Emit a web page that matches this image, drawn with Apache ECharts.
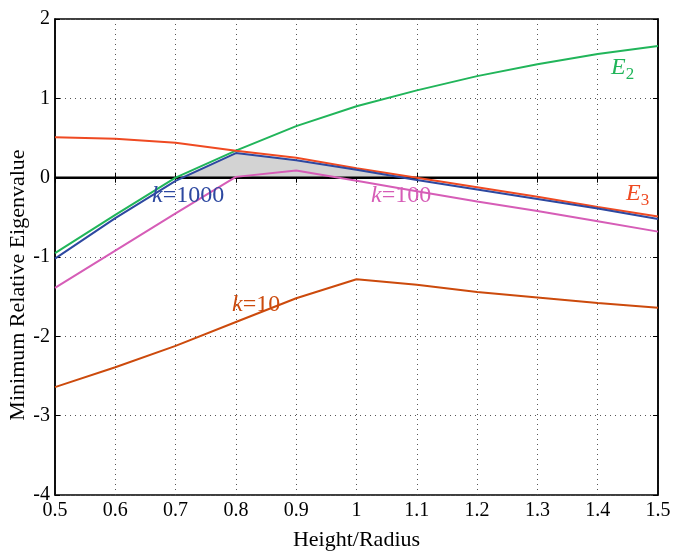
<!DOCTYPE html>
<html>
<head>
<meta charset="utf-8">
<script src="https://cdn.jsdelivr.net/npm/echarts@6/dist/echarts.min.js"></script>
<style>
  html, body { margin: 0; padding: 0; background: #fff; }
  #chart { width: 673px; height: 552px; }
</style>
</head>
<body>
<div id="chart"></div>
<script>
  // 横轴: 高度/半径
  const ratios = [0.5, 0.6, 0.7, 0.8, 0.9, 1.0, 1.1, 1.2, 1.3, 1.4, 1.5];
  const e2 = [-0.95, -0.47, 0.0, 0.34, 0.65, 0.90, 1.10, 1.28, 1.43, 1.56, 1.66];
  const e3 = [0.51, 0.49, 0.44, 0.34, 0.25, 0.12, 0.0, -0.12, -0.24, -0.37, -0.49];
  const k1000 = [-1.02, -0.51, -0.04, 0.31, 0.22, 0.10, -0.03, -0.15, -0.27, -0.39, -0.52];
  const k100 = [-1.39, -0.92, -0.45, 0.01, 0.09, -0.04, -0.17, -0.30, -0.42, -0.55, -0.68];
  const k10 = [-2.64, -2.39, -2.12, -1.82, -1.52, -1.28, -1.35, -1.44, -1.51, -1.58, -1.64];
  // 阴影区 (k=1000 大于 0 的部分)
  const shadeX = [0.705, 0.8, 0.9, 1.0, 1.07];
  const shadeY = [0, 0.31, 0.22, 0.10, 0];

  const font = '"Liberation Serif", "DejaVu Serif", serif';
  const pair = (xs, ys) => xs.map((x, i) => [x, ys[i]]);

  function line(name, data, color, z) {
    return {
      name: name, type: 'line', data: pair(ratios, data), symbol: 'none',
      lineStyle: { color: color, width: 2 }, z: z, animation: false
    };
  }

  function eTag(x, y, sub, color) {
    return {
      type: 'text', left: x, top: y, z: 100,
      style: {
        text: '{m|E}{s|' + sub + '}',
        rich: {
          m: { fontFamily: font, fontStyle: 'italic', fontSize: 24, fill: color },
          s: { fontFamily: font, fontSize: 17, fill: color, padding: [14, 0, 0, 0] }
        }
      }
    };
  }

  function kTag(x, y, num, color) {
    return {
      type: 'text', left: x, top: y, z: 100,
      style: {
        text: '{k|k}{n|=' + num + '}',
        rich: {
          k: { fontFamily: font, fontStyle: 'italic', fontSize: 24, fill: color },
          n: { fontFamily: font, fontSize: 24, fill: color }
        }
      }
    };
  }

  let chart = echarts.init(document.getElementById('chart'));
  chart.setOption({
    backgroundColor: '#fff',
    grid: { left: 55, right: 15, top: 19, bottom: 57, outerBoundsMode: 'none',
      show: true, borderColor: '#000', borderWidth: 1.5 },
    xAxis: [{
      type: 'value', min: 0.5, max: 1.5, interval: 0.1,
      name: 'Height/Radius', nameLocation: 'middle', nameGap: 34,
      nameTextStyle: { fontFamily: font, fontSize: 22, color: '#000' },
      axisLine: { lineStyle: { color: '#000', width: 1.5 } },
      axisTick: { inside: true, length: 5, lineStyle: { color: '#000' } },
      axisLabel: { fontFamily: font, fontSize: 20, color: '#000', margin: 6,
        formatter: v => String(Math.round(v * 10) / 10) },
      splitLine: { show: true, lineStyle: { color: '#555', type: [1, 4], width: 1 } }
    }, {
      type: 'value', min: 0.5, max: 1.5, interval: 0.1, position: 'top',
      axisLine: { show: true, lineStyle: { color: '#000', width: 1.5 } },
      axisTick: { inside: true, length: 5, lineStyle: { color: '#000' } },
      axisLabel: { show: false }, splitLine: { show: false }
    }],
    yAxis: [{
      type: 'value', min: -4, max: 2, interval: 1,
      axisLine: { show: true, lineStyle: { color: '#000', width: 1.5 } },
      axisTick: { show: true, inside: true, length: 5, lineStyle: { color: '#000' } },
      axisLabel: { fontFamily: font, fontSize: 20, color: '#000', margin: 5 },
      splitLine: { show: true, lineStyle: { color: '#555', type: [1, 4], width: 1 } }
    }, {
      type: 'value', min: -4, max: 2, interval: 1, position: 'right',
      axisLine: { show: true, lineStyle: { color: '#000', width: 1.5 } },
      axisTick: { show: true, inside: true, length: 5, lineStyle: { color: '#000' } },
      axisLabel: { show: false }, splitLine: { show: false }
    }],
    series: [
      {
        name: 'shade', type: 'line', data: pair(shadeX, shadeY), symbol: 'none',
        lineStyle: { width: 0 }, areaStyle: { color: '#d3d3d3', opacity: 1, origin: 0 },
        z: 1, animation: false
      },
      {
        name: 'zero', type: 'line', data: [[0.5, 0], [1.5, 0]], symbol: 'none',
        lineStyle: { color: '#000', width: 2.5 }, z: 2, animation: false
      },
      line('k=10', k10, '#cc4a0c', 3),
      line('k=100', k100, '#d65db7', 3),
      line('E2', e2, '#21b55a', 4),
      line('E3', e3, '#ef4a22', 4),
      line('k=1000', k1000, '#2d48a0', 5)
    ],
    graphic: [
      {
        type: 'text', x: 18, y: 285, rotation: Math.PI / 2, z: 100,
        style: { text: 'Minimum Relative Eigenvalue', fontFamily: font, fontSize: 22,
          fill: '#000', align: 'center', verticalAlign: 'middle' }
      },
      eTag(611, 56, '2', '#21b55a'),
      eTag(626, 182, '3', '#ef4a22'),
      kTag(152, 184, '1000', '#2d48a0'),
      kTag(371, 184, '100', '#d65db7'),
      kTag(232, 293, '10', '#cc4a0c')
    ]
  });
</script>
</body>
</html>
